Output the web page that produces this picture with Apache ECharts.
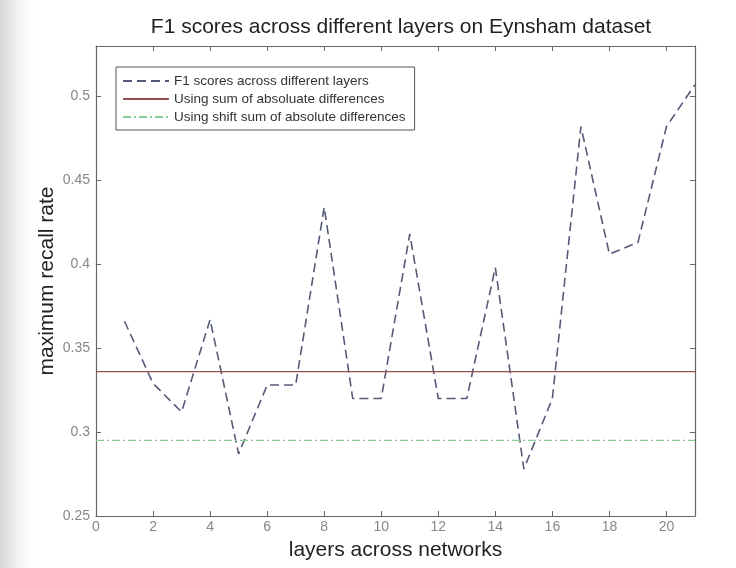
<!DOCTYPE html>
<html>
<head>
<meta charset="utf-8">
<script src="https://cdn.jsdelivr.net/npm/echarts@6/dist/echarts.min.js"></script>
<style>html,body{margin:0;padding:0;background:#fff;}#c{width:736px;height:568px;}</style>
</head>
<body>
<div id="c"></div>
<script>
const layers = [1,2,3,4,5,6,7,8,9,10,11,12,13,14,15,16,17,18,19,20,21];
const f1Scores = [0.366,0.329,0.312,0.367,0.287,0.328,0.328,0.434,0.320,0.320,0.418,0.320,0.320,0.398,0.278,0.320,0.482,0.406,0.413,0.482,0.507];
const sadValue = 0.336;
const shiftSadValue = 0.295;
const xRange = [0, 21];
const seriesNames = ['F1 scores across different layers','Using sum of absoluate differences','Using shift sum of absolute differences'];

const chart = echarts.init(document.getElementById('c'));
const font = 'Liberation Sans, Arial, sans-serif';
const axisColor = '#666';
chart.setOption({
  backgroundColor: {
    type: 'linear', x: 0, y: 0, x2: 1, y2: 0,
    colorStops: [{offset: 0, color: '#d6d6d6'}, {offset: 0.012, color: '#e4e4e4'}, {offset: 0.025, color: '#f2f2f2'}, {offset: 0.04, color: '#fcfcfc'}, {offset: 0.05, color: '#ffffff'}, {offset: 1, color: '#ffffff'}]
  },
  animation: false,
  title: {
    text: 'F1 scores across different layers on Eynsham dataset',
    left: 396, top: 12, textAlign: 'center',
    textStyle: {fontFamily: font, fontSize: 21, fontWeight: 'normal', color: '#222'}
  },
  legend: {
    orient: 'vertical', left: 116, top: 67,
    data: seriesNames,
    itemWidth: 46, itemHeight: 8, itemGap: 4,
    itemStyle: {opacity: 0},
    padding: [7, 9, 6, 6],
    borderColor: '#555', borderWidth: 1, backgroundColor: '#fff',
    textStyle: {fontFamily: font, fontSize: 13.5, color: '#333'}
  },
  grid: {left: 96, right: 41, top: 46, bottom: 52, show: false},
  xAxis: [{
    type: 'value', min: xRange[0], max: xRange[1], interval: 2,
    name: 'layers across networks', nameLocation: 'middle', nameGap: 24,
    nameTextStyle: {fontFamily: font, fontSize: 21, color: '#222'},
    axisLine: {show: true, onZero: false, lineStyle: {color: axisColor, width: 1.2}},
    axisTick: {show: true, inside: true, length: 5, lineStyle: {color: axisColor}},
    axisLabel: {fontFamily: font, fontSize: 14, color: '#888', margin: 4, showMaxLabel: false},
    splitLine: {show: false}
  }, {
    type: 'value', position: 'top', min: xRange[0], max: xRange[1], interval: 2,
    axisLine: {show: true, onZero: false, lineStyle: {color: axisColor, width: 1.2}},
    axisTick: {show: true, inside: true, length: 5, lineStyle: {color: axisColor}},
    axisLabel: {show: false}, splitLine: {show: false}
  }],
  yAxis: [{
    type: 'value', min: 0.25, max: 0.53, interval: 0.05,
    name: 'maximum recall rate', nameLocation: 'middle', nameGap: 38, nameRotate: 90,
    nameMoveOverlap: false,
    nameTextStyle: {fontFamily: font, fontSize: 21, color: '#222'},
    axisLine: {show: true, onZero: false, lineStyle: {color: axisColor, width: 1.2}},
    axisTick: {show: true, inside: true, length: 5, lineStyle: {color: axisColor}},
    axisLabel: {fontFamily: font, fontSize: 14, color: '#888', margin: 6, showMaxLabel: false,
      formatter: v => String(Math.round(v * 100) / 100)},
    splitLine: {show: false}
  }, {
    type: 'value', position: 'right', min: 0.25, max: 0.53, interval: 0.05,
    axisLine: {show: true, onZero: false, lineStyle: {color: axisColor, width: 1.2}},
    axisTick: {show: true, inside: true, length: 5, lineStyle: {color: axisColor}},
    axisLabel: {show: false}, splitLine: {show: false}
  }],
  series: [{
    name: seriesNames[0], type: 'line', showSymbol: false, symbol: 'none',
    data: layers.map((x, i) => [x, f1Scores[i]]),
    lineStyle: {color: '#555a78', width: 1.6, type: [9, 5]},
    itemStyle: {color: '#555a78'}
  }, {
    name: seriesNames[1], type: 'line', showSymbol: false, symbol: 'none',
    data: xRange.map(x => [x, sadValue]),
    lineStyle: {color: '#9a4f52', width: 1.2, type: 'solid'},
    itemStyle: {color: '#9a4f52'}
  }, {
    name: seriesNames[2], type: 'line', showSymbol: false, symbol: 'none',
    data: xRange.map(x => [x, shiftSadValue]),
    lineStyle: {color: '#86cc94', width: 1.2, type: [8, 3, 2, 3]},
    itemStyle: {color: '#86cc94'}
  }]
});
</script>
</body>
</html>
